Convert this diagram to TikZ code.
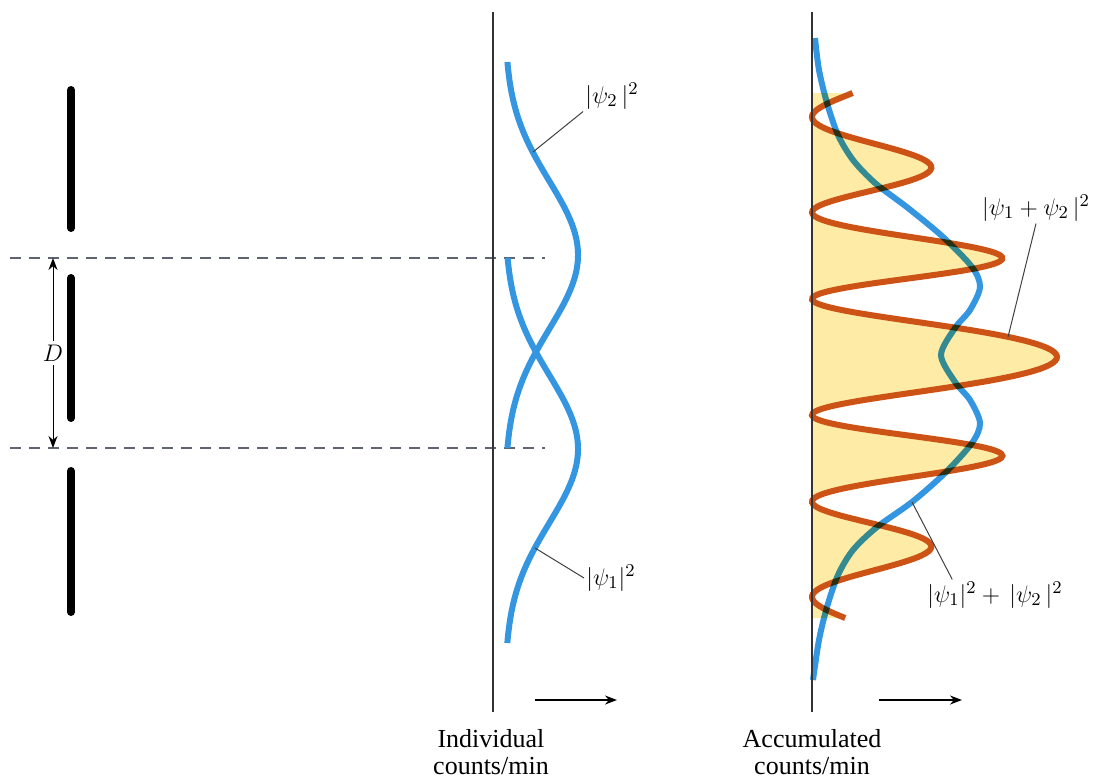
\documentclass[tikz,border=0pt]{standalone}
\usepackage{fontspec}
\setmainfont{Liberation Serif}
\usetikzlibrary{arrows.meta}

\definecolor{azul}{RGB}{52,150,225}
\definecolor{laranja}{RGB}{205,82,22}
\definecolor{amarelo}{RGB}{254,235,165}
\definecolor{tracejado}{RGB}{95,100,112}

\begin{document}
\begin{tikzpicture}[>={Stealth[length=6pt,width=4.5pt]}, x=0.5pt, y=-0.5pt,
    curva/.style={line width=3pt, azul},
    franja/.style={line width=3pt, laranja},
    eixo/.style={line width=0.75pt, black!80},
    fenda/.style={line width=4pt, line cap=round},
    guia/.style={dash pattern=on 5.5pt off 4pt, line width=0.8pt, tracejado},
    rotulo/.style={font=\fontsize{13}{13.5}\selectfont, inner sep=1pt},
    linha/.style={line width=0.5pt, black!75},
    declare function={
        bump(\t)=73*exp(-((\t)/74)^2/2);
        franja(\u)=245/(1+((\u)/186)^2)*cos(180*((\u)/96-0.00356*(\u)*exp(-((\u)/70)^2)))^2;
    }]

    \useasboundingbox (0,0) rectangle (1093,778);

    % 1. Anteparo com as duas fendas
    \draw[fenda] (71,90) -- (71,228);
    \draw[fenda] (71,278) -- (71,418);
    \draw[fenda] (71,471) -- (71,612);

    % 2. Linhas tracejadas e separacao D
    \coordinate (dtop) at (53,258);
    \coordinate (dbot) at (53,448);
    \draw[guia] (10,258) -- (545,258);
    \draw[guia] (10,448) -- (545,448);
    \draw[<->, line width=0.5pt] (dtop) -- node[rotulo, fill=white, inner sep=2pt] (dlab) {$D$} (dbot);

    % 3. Curvas individuais |psi_1|^2 e |psi_2|^2
    \draw[curva] plot[variable=\y, domain=62:448, samples=80, smooth] ({505+bump(\y-255)}, \y);
    \draw[curva] plot[variable=\y, domain=258:643, samples=80, smooth] ({505+bump(\y-449)}, \y);

    \node[rotulo] (lpsi2) at (612,96) {$|\psi_2\,|^2$};
    \coordinate (npsi2) at (533,152);
    \draw[linha] (lpsi2.south west) -- (npsi2);

    \node[rotulo] (lpsi1) at (611,578) {$|\psi_1|^2$};
    \coordinate (npsi1) at (535,548);
    \draw[linha] (lpsi1.west) -- (npsi1);

    % 4. Padrao acumulado (interferencia)
    \fill[amarelo] (812,93) -- plot[variable=\u, domain=-264:261, samples=260, smooth] ({812+franja(\u)}, {357+\u}) -- (812,618) -- cycle;
    \draw[franja] plot[variable=\u, domain=-264:261, samples=260, smooth] ({812+franja(\u)}, {357+\u});

    % soma |psi_1|^2 + |psi_2|^2 (multiplica as cores, como na impressao)
    \begin{scope}[blend mode=multiply]
        \draw[curva] plot[smooth] coordinates {(815,38) (819,70) (827,103) (838,135) (853,160) (875,183)
            (908,208) (943,237) (972,267) (980,287) (970,310) (955,328) (941,355) (955,382) (970,400)
            (980,423) (972,443) (945,473) (912,502) (877,527) (853,550) (838,575) (827,607) (819,640) (813,680)};
    \end{scope}

    \node[rotulo] (lsoma) at (1036,208) {$|\psi_1+\psi_2\,|^2$};
    \coordinate (nsoma) at (1008,337);
    \draw[linha] (lsoma.south) -- (nsoma);

    \node[rotulo] (lsomaq) at (995,595) {$|\psi_1|^2+\,|\psi_2\,|^2$};
    \coordinate (nsomaq) at (912,502);
    \draw[linha] (lsomaq.160) -- (nsomaq);

    % 5. Eixos, setas e legendas
    \coordinate (e1top) at (493,12);
    \coordinate (e1bot) at (493,712);
    \coordinate (e2top) at (812,12);
    \coordinate (e2bot) at (812,712);
    \draw[eixo] (e1top) -- (e1bot);
    \draw[eixo] (e2top) -- (e2bot);

    \coordinate (s1a) at (535,700);
    \coordinate (s1b) at (617,700);
    \coordinate (s2a) at (879,700);
    \coordinate (s2b) at (962,700);
    \draw[->, line width=0.7pt] (s1a) -- (s1b);
    \draw[->, line width=0.7pt] (s2a) -- (s2b);

    \node[rotulo, align=center] (t1) at (491,752) {Individual\\counts/min};
    \node[rotulo, align=center] (t2) at (812,752) {Accumulated\\counts/min};

\end{tikzpicture}
\end{document}
